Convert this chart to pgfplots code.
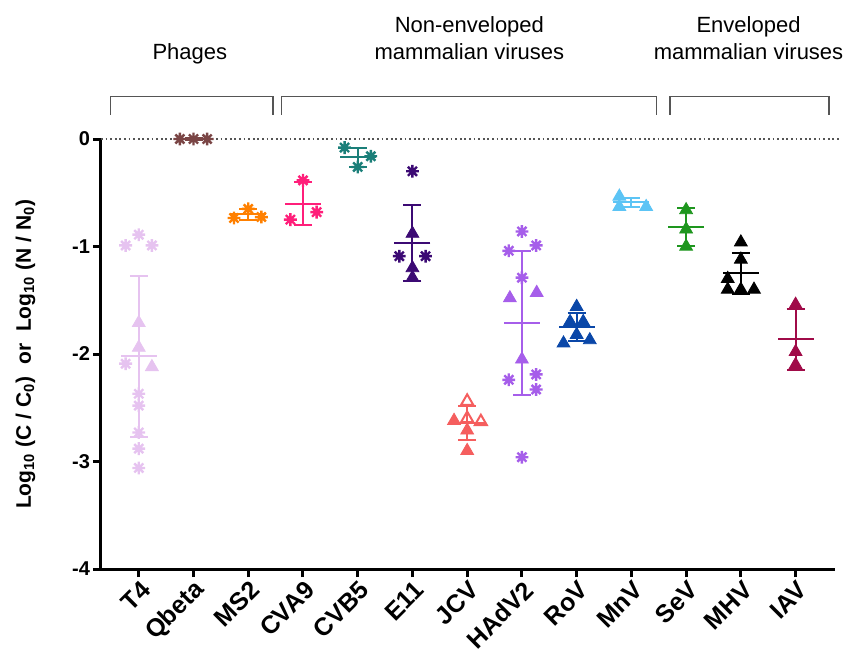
\documentclass[border=0pt]{standalone}
\usepackage{fontspec}
\setmainfont{Liberation Sans}
\setsansfont{Liberation Sans}
\usepackage{pgfplots}
\pgfplotsset{compat=1.18}

\definecolor{cT4}{HTML}{E6C3F0}
\definecolor{cQb}{HTML}{7A4545}
\definecolor{cMS2}{HTML}{FF8000}
\definecolor{cCVA}{HTML}{FF1F7A}
\definecolor{cCVB}{HTML}{1B7F79}
\definecolor{cE11}{HTML}{3C0A74}
\definecolor{cJCV}{HTML}{F55E5E}
\definecolor{cHAd}{HTML}{A65EEA}
\definecolor{cRoV}{HTML}{0A47A8}
\definecolor{cMnV}{HTML}{5CC4F5}
\definecolor{cSeV}{HTML}{1E961E}
\definecolor{cMHV}{HTML}{000000}
\definecolor{cIAV}{HTML}{A00B48}
\definecolor{brk}{HTML}{555555}

% 8-spoke asterisk like the GraphPad one
\pgfdeclareplotmark{ast}{%
  \pgfpathmoveto{\pgfqpoint{-\pgfplotmarksize}{0pt}}%
  \pgfpathlineto{\pgfqpoint{\pgfplotmarksize}{0pt}}%
  \pgfpathmoveto{\pgfqpoint{0pt}{-\pgfplotmarksize}}%
  \pgfpathlineto{\pgfqpoint{0pt}{\pgfplotmarksize}}%
  \pgfpathmoveto{\pgfqpoint{-.7071\pgfplotmarksize}{-.7071\pgfplotmarksize}}%
  \pgfpathlineto{\pgfqpoint{.7071\pgfplotmarksize}{.7071\pgfplotmarksize}}%
  \pgfpathmoveto{\pgfqpoint{-.7071\pgfplotmarksize}{.7071\pgfplotmarksize}}%
  \pgfpathlineto{\pgfqpoint{.7071\pgfplotmarksize}{-.7071\pgfplotmarksize}}%
  \pgfusepathqstroke}

\pgfplotsset{
  pts/.style={only marks, mark=ast, mark size=3.2pt, line width=1.2pt, color=#1},
  tri/.style={only marks, mark=triangle*, mark size=3.7pt, color=#1},
  otri/.style={only marks, mark=triangle, mark size=3.5pt, line width=1pt, color=#1, mark options={fill=white}},
  msd/.style={only marks, color=#1, mark=-, mark size=9pt, mark options={line width=1pt},
    error bars/.cd, y dir=both, y explicit, error mark=|,
    error mark options={mark size=4.5pt, line width=1pt, color=#1},
    error bar style={line width=1pt, color=#1}},
}

\newcommand\tfont{\bfseries\fontsize{10}{12}\selectfont}
\newcommand\xfont{\bfseries\fontsize{12.5}{14}\selectfont}
\newcommand\lfont{\bfseries\fontsize{10.5}{12}\selectfont}
\newcommand\gfont{\fontsize{11}{13}\selectfont}

\begin{document}
\begin{tikzpicture}
\path[use as bounding box] (-50.5pt,-40.5pt) rectangle (372.5pt,284.5pt);
\begin{axis}[
  width=367pt, height=215pt, scale only axis,
  xmin=-0.69, xmax=12.72, ymin=-4, ymax=0,
  axis lines=left,
  axis line style={-, line width=1.5pt},
  xtick={0,...,12},
  xticklabels={T4,Qbeta,MS2,CVA9,CVB5,E11,JCV,HAdV2,RoV,MnV,SeV,MHV,IAV},
  ytick={-4,-3,-2,-1,0},
  tick align=outside,
  major tick length=4pt,
  tick style={line width=1.5pt, black},
  yticklabel style={font=\tfont, xshift=2pt},
  xticklabel style={font=\xfont, xshift=6pt, yshift=-2pt, rotate=45, anchor=east},
  /pgf/number format/assume math mode=true,
  ylabel={Log\textsubscript{10} (C / C\textsubscript{0})\ \ or\ \ Log\textsubscript{10} (N / N\textsubscript{0})},
  ylabel style={font=\lfont, at={(axis description cs:-0.103,0.5)}, anchor=center},
  clip=false,
]
% reference line at zero
\addplot[brk, line width=0.9pt, dash pattern=on 0.9pt off 1.4pt] coordinates {(-0.69,0) (12.8,0)};

% T4
\addplot[msd=cT4] coordinates {(0,-2.02) +- (0,0.75)};
\addplot[pts=cT4] coordinates {(0,-0.89) (-0.24,-0.99) (0.24,-0.99) (-0.24,-2.09) (0,-2.37) (0,-2.48) (0,-2.73) (0,-2.88) (0,-3.06)};
\addplot[tri=cT4] coordinates {(0,-1.71) (0,-1.94) (0.24,-2.12)};
% Qbeta
\addplot[msd=cQb] coordinates {(1,0) +- (0,0.005)};
\addplot[pts=cQb] coordinates {(0.75,0) (1,0) (1.25,0)};
% MS2
\addplot[msd=cMS2] coordinates {(2,-0.70) +- (0,0.05)};
\addplot[pts=cMS2] coordinates {(1.74,-0.735) (2,-0.65) (2.24,-0.726)};
% CVA9
\addplot[msd=cCVA] coordinates {(3,-0.60) +- (0,0.20)};
\addplot[pts=cCVA] coordinates {(3,-0.385) (3.25,-0.68) (2.77,-0.75)};
% CVB5
\addplot[msd=cCVB] coordinates {(4,-0.17) +- (0,0.09)};
\addplot[pts=cCVB] coordinates {(3.76,-0.08) (4.24,-0.16) (4,-0.26)};
% E11
\addplot[msd=cE11] coordinates {(5,-0.97) +- (0,0.355)};
\addplot[pts=cE11] coordinates {(5,-0.30) (4.76,-1.09) (5.24,-1.09)};
\addplot[tri=cE11] coordinates {(5,-0.88) (5,-1.20) (5,-1.29)};
% JCV
\addplot[msd=cJCV] coordinates {(6,-2.64) +- (0,0.16)};
\addplot[tri=cJCV] coordinates {(5.76,-2.62) (6,-2.71) (6,-2.90)};
\addplot[otri=cJCV] coordinates {(6,-2.44) (6,-2.60) (6.25,-2.63)};
% HAdV2
\addplot[msd=cHAd] coordinates {(7,-1.71) +- (0,0.67)};
\addplot[pts=cHAd] coordinates {(7,-0.86) (6.76,-1.04) (7.26,-0.99) (7,-1.29) (6.76,-2.24) (7.26,-2.19) (7.26,-2.33) (7,-2.96)};
\addplot[tri=cHAd] coordinates {(6.78,-1.48) (7.27,-1.43) (7,-2.05)};
% RoV
\addplot[msd=cRoV] coordinates {(8,-1.745) +- (0,0.13)};
\addplot[tri=cRoV] coordinates {(8,-1.56) (7.88,-1.70) (8.12,-1.70) (8,-1.82) (7.76,-1.90) (8.24,-1.87)};
% MnV
\addplot[msd=cMnV] coordinates {(9,-0.59) +- (0,0.045)};
\addplot[tri=cMnV] coordinates {(8.78,-0.534) (8.78,-0.63) (9.27,-0.63)};
% SeV
\addplot[msd=cSeV] coordinates {(10,-0.82) +- (0,0.175)};
\addplot[tri=cSeV] coordinates {(10,-0.66) (10,-0.84) (10,-1.00)};
% MHV
\addplot[msd=cMHV] coordinates {(11,-1.25) +- (0,0.19)};
\addplot[tri=cMHV] coordinates {(11,-0.96) (11,-1.12) (10.76,-1.30) (10.76,-1.40) (11,-1.40) (11.24,-1.40)};
% IAV
\addplot[msd=cIAV] coordinates {(12,-1.865) +- (0,0.285)};
\addplot[tri=cIAV] coordinates {(12,-1.54) (12,-1.98) (12,-2.10)};

% group brackets and labels
\draw[brk, line width=0.8pt] (axis cs:-0.518,0.226) |- (axis cs:2.457,0.394) -- (axis cs:2.457,0.226);
\draw[brk, line width=0.8pt] (axis cs:2.61,0.226) |- (axis cs:9.457,0.394) -- (axis cs:9.457,0.226);
\draw[brk, line width=0.8pt] (axis cs:9.70,0.226) |- (axis cs:12.61,0.394) -- (axis cs:12.61,0.226);
\node[font=\gfont, anchor=base] at (axis cs:0.933,0.738) {Phages};
\node[font=\gfont, anchor=base] at (axis cs:6.04,0.99) {Non-enveloped};
\node[font=\gfont, anchor=base] at (axis cs:6.04,0.738) {mammalian viruses};
\node[font=\gfont, anchor=base] at (axis cs:11.14,0.99) {Enveloped};
\node[font=\gfont, anchor=base] at (axis cs:11.14,0.738) {mammalian viruses};
\end{axis}
\end{tikzpicture}
\end{document}
